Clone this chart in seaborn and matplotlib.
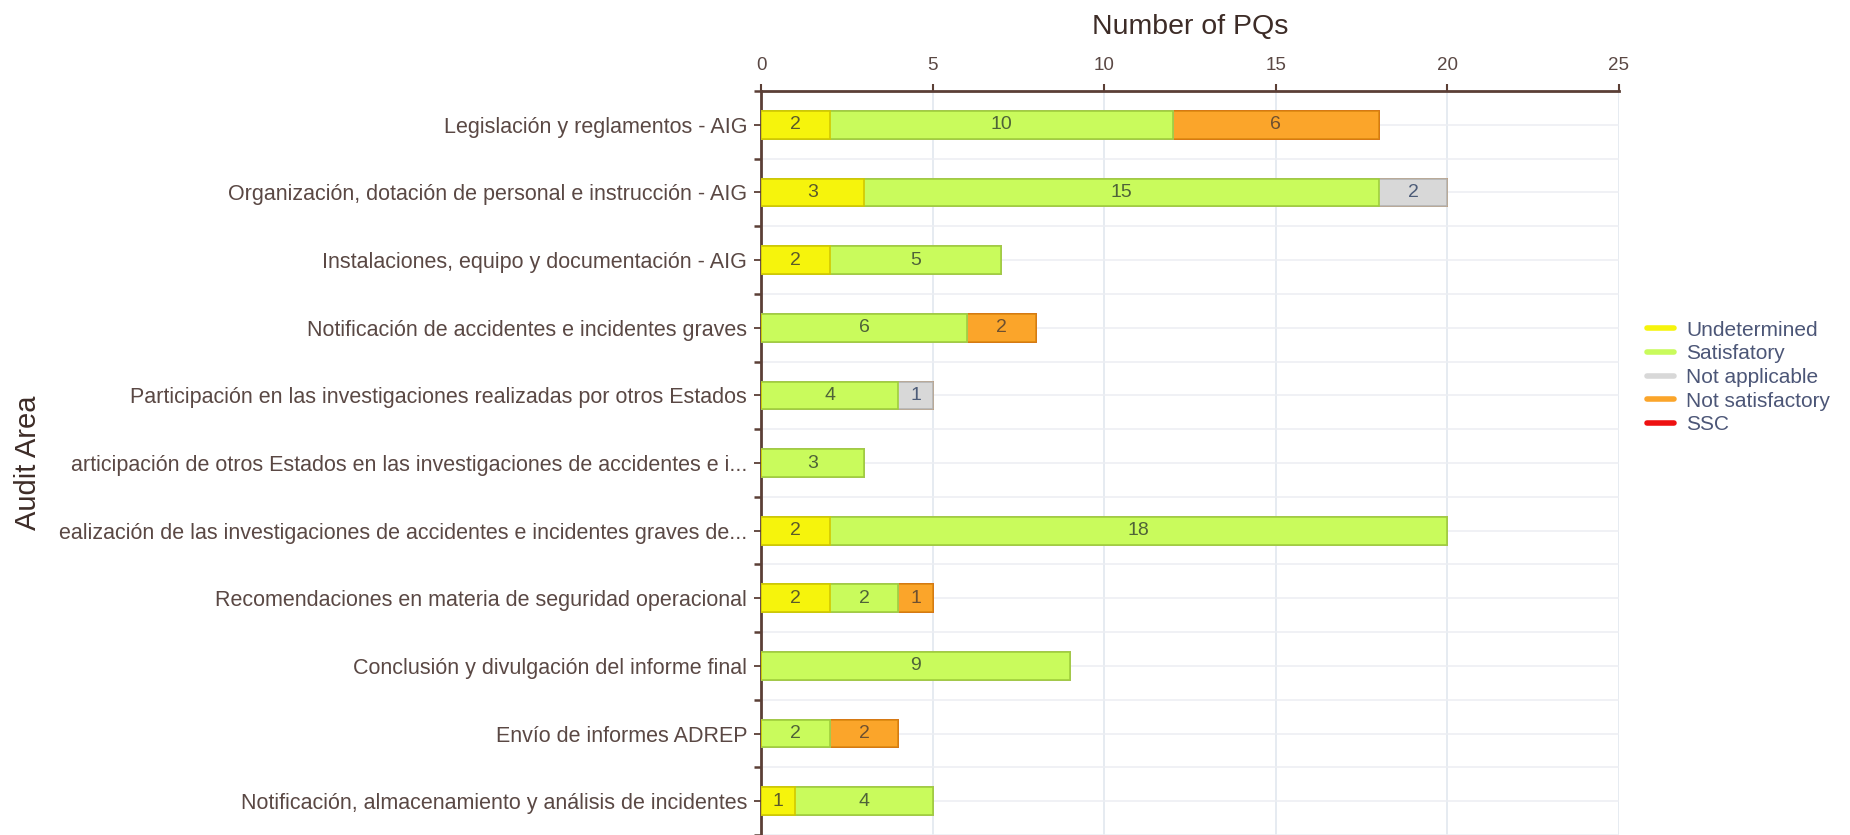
import numpy as np
import pandas as pd
import matplotlib
matplotlib.use("Agg")
import matplotlib.pyplot as plt
from matplotlib.lines import Line2D
from matplotlib.ticker import MultipleLocator
import seaborn as sns

# ---------------- data ----------------
categories = [
    "Legislación y reglamentos - AIG",
    "Organización, dotación de personal e instrucción - AIG",
    "Instalaciones, equipo y documentación - AIG",
    "Notificación de accidentes e incidentes graves",
    "Participación en las investigaciones realizadas por otros Estados",
    "articipación de otros Estados en las investigaciones de accidentes e i...",
    "ealización de las investigaciones de accidentes e incidentes graves de...",
    "Recomendaciones en materia de seguridad operacional",
    "Conclusión y divulgación del informe final",
    "Envío de informes ADREP",
    "Notificación, almacenamiento y análisis de incidentes",
]
undetermined = [2, 3, 2, 0, 0, 0, 2, 2, 0, 0, 1]
satisfactory = [10, 15, 5, 6, 4, 3, 18, 2, 9, 2, 4]
not_applicable = [0, 2, 0, 0, 1, 0, 0, 0, 0, 0, 0]
not_satisfactory = [6, 0, 0, 2, 0, 0, 0, 1, 0, 2, 0]
ssc = [0, 0, 0, 0, 0, 0, 0, 0, 0, 0, 0]

series_names = ["Undetermined", "Satisfatory", "Not applicable", "Not satisfactory", "SSC"]
series_values = [undetermined, satisfactory, not_applicable, not_satisfactory, ssc]
x_ticks = [0, 5, 10, 15, 20, 25]

# ---------------- style ----------------
fill_colors = ["#f6f40c", "#c9fb5c", "#d8d8d8", "#fba52a", "#ee1111"]
edge_colors = ["#d2c800", "#9fcf3c", "#b4b4b4", "#dc8a10", "#b00000"]
text_colors = ["#5b5a2a", "#4f6338", "#4d5c78", "#6e5030", "#ffffff"]
axis_color = "#5b3f36"
label_color = "#5a4844"

sns.set_style("white")
plt.rcParams["font.family"] = ["Liberation Sans", "DejaVu Sans"]

fig = plt.figure(figsize=(18.5, 8.35), dpi=100)
ax = fig.add_axes([0.4114, 0.0, 0.8751 - 0.4114, 0.891])

df = pd.DataFrame({"category": categories})
vals = np.array(series_values, dtype=float)
cums = np.cumsum(vals, axis=0)

# draw stacked bars back to front (cumulative totals)
for k in range(len(series_names) - 1, -1, -1):
    df["total"] = cums[k]
    sns.barplot(data=df, x="total", y="category", order=categories, orient="h",
                color=fill_colors[k], edgecolor=edge_colors[k], linewidth=1.2,
                saturation=1, width=0.41, ax=ax, zorder=3)

# segment value labels
for k in range(len(series_names)):
    for i in range(len(categories)):
        v = vals[k, i]
        if v > 0:
            ax.text(cums[k, i] - v / 2, i, f"{int(v)}", ha="center", va="center",
                    fontsize=14, color=text_colors[k], zorder=5)

# axes
ax.set_xlim(0, 25)
ax.set_ylim(len(categories) - 0.5, -0.5)
ax.set_xticks(x_ticks)
ax.xaxis.tick_top()
ax.xaxis.set_label_position("top")
ax.set_xlabel("Number of PQs", fontsize=20.5, color="#3d2c27")
ax.xaxis.set_label_coords(0.5, 1.076)
ax.set_ylabel("Audit Area", fontsize=21, color="#3d2c27")
ax.yaxis.set_label_coords(-0.838, 0.5)

ax.yaxis.set_minor_locator(MultipleLocator(1, offset=0.5))
ax.tick_params(axis="x", which="major", top=True, bottom=False, direction="out",
               length=5, width=1.5, color=axis_color, labelsize=13.5,
               labelcolor=label_color, pad=7)
ax.tick_params(axis="y", which="major", left=True, direction="out", length=5,
               width=1.3, color=axis_color, labelsize=15.5, labelcolor=label_color, pad=5)
ax.tick_params(axis="y", which="minor", left=True, direction="out", length=5,
               width=1.8, color=axis_color)

ax.grid(axis="x", which="major", color="#dfe5ee", linewidth=1.1, zorder=0)
ax.grid(axis="y", which="both", color="#eceef3", linewidth=1.1, zorder=0)
ax.set_axisbelow(True)

for side in ["right", "bottom"]:
    ax.spines[side].set_visible(False)
for side in ["top", "left"]:
    ax.spines[side].set_visible(True)
    ax.spines[side].set_color(axis_color)
    ax.spines[side].set_linewidth(2)

# legend
handles = [Line2D([0], [0], color=c, lw=4) for c in fill_colors]
leg = fig.legend(handles, series_names, loc="center left",
                 bbox_to_anchor=(0.890, 0.548), frameon=False, fontsize=15,
                 handlelength=1.3, handletextpad=0.6, labelspacing=0.22,
                 borderpad=0, borderaxespad=0)
for t in leg.get_texts():
    t.set_color("#4c5677")

fig.savefig("out.png", dpi=100)
